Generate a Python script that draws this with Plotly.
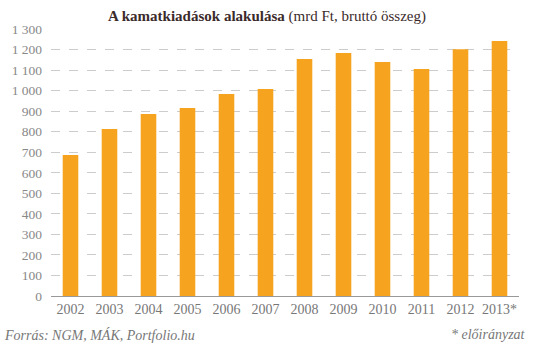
import plotly.graph_objects as go

years = ["2002", "2003", "2004", "2005", "2006", "2007", "2008", "2009", "2010", "2011", "2012", "2013*"]
values = [686, 813, 886, 915, 983, 1008, 1154, 1183, 1139, 1105, 1202, 1241]
y_ticks = [0, 100, 200, 300, 400, 500, 600, 700, 800, 900, 1000, 1100, 1200, 1300]
y_tick_labels = ["0", "100", "200", "300", "400", "500", "600", "700", "800", "900",
                 "1 000", "1 100", "1 200", "1 300"]

serif = "Liberation Serif, DejaVu Serif, serif"

fig = go.Figure(go.Bar(x=years, y=values, marker_color="#F6A41F", marker_line_width=0))

fig.update_layout(
    width=534, height=350,
    margin=dict(l=49, r=15, t=29, b=54),
    paper_bgcolor="white", plot_bgcolor="white",
    bargap=0.6,
    showlegend=False,
    font=dict(family=serif, color="#888888", size=13),
    title=dict(
        text="<b>A kamatkiadások alakulása</b> (mrd Ft, bruttó összeg)",
        x=0.5, xanchor="center", y=0.955, yanchor="middle",
        font=dict(family=serif, size=15, color="#3b2b2b"),
    ),
    xaxis=dict(
        showgrid=False, showline=True, linecolor="#999999", linewidth=1,
        ticks="", tickfont=dict(size=14, color="#777777"),
    ),
    yaxis=dict(
        range=[0, 1300], tickvals=y_ticks, ticktext=y_tick_labels,
        showgrid=True, gridcolor="#cccccc", griddash="dash", gridwidth=1,
        zeroline=False, ticks="", tickfont=dict(size=13.5, color="#888888"),
        ticklabelstandoff=8,
    ),
    annotations=[
        dict(text="<i>Forrás: NGM, MÁK, Portfolio.hu</i>", xref="paper", yref="paper",
             x=-49/470, y=-0.145, xanchor="left", yanchor="middle", showarrow=False,
             font=dict(family=serif, size=14, color="#777777")),
        dict(text="<i>* előirányzat</i>", xref="paper", yref="paper",
             x=1.02, y=-0.145, xanchor="right", yanchor="middle", showarrow=False,
             font=dict(family=serif, size=14, color="#777777")),
    ],
)

fig.write_html("out.html")
